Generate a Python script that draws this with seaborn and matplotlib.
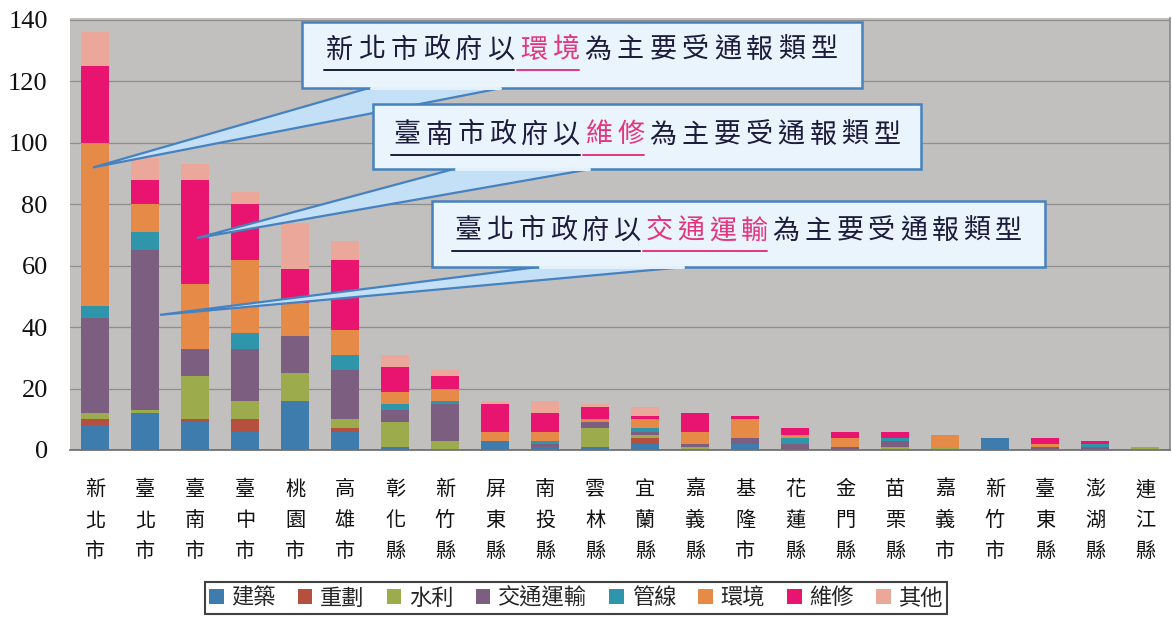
import matplotlib
matplotlib.use("Agg")
import matplotlib.pyplot as plt
import seaborn as sns
import numpy as np
from matplotlib.patches import Polygon, Rectangle, Patch
from matplotlib.lines import Line2D

sns.set_theme(style="white")
CJK = ["Noto Sans CJK TC", "DejaVu Sans"]
plt.rcParams["font.family"] = CJK

# 各縣市受通報件數 (依類型)
counties = ["新北市", "臺北市", "臺南市", "臺中市", "桃園市", "高雄市", "彰化縣", "新竹縣",
            "屏東縣", "南投縣", "雲林縣", "宜蘭縣", "嘉義縣", "基隆市", "花蓮縣", "金門縣",
            "苗栗縣", "嘉義市", "新竹市", "臺東縣", "澎湖縣", "連江縣"]
types = ["建築", "重劃", "水利", "交通運輸", "管線", "環境", "維修", "其他"]

jianzhu = [8, 12, 9, 6, 16, 6, 1, 0, 3, 1, 1, 2, 0, 2, 0, 0, 0, 0, 4, 0, 0, 0]
chonghua = [2, 0, 1, 4, 0, 1, 0, 0, 0, 0, 0, 2, 0, 0, 0, 0, 0, 0, 0, 0, 0, 0]
shuili = [2, 1, 14, 6, 9, 3, 8, 3, 0, 0, 6, 1, 1, 0, 0, 0, 1, 1, 0, 0, 0, 1]
jiaotong = [31, 52, 9, 17, 12, 16, 4, 12, 0, 1, 2, 1, 1, 2, 2, 1, 2, 0, 0, 1, 1, 0]
guanxian = [4, 6, 0, 5, 0, 5, 2, 1, 0, 1, 0, 1, 0, 0, 2, 0, 1, 0, 0, 0, 1, 0]
huanjing = [53, 9, 21, 24, 11, 8, 4, 4, 3, 3, 1, 3, 4, 6, 1, 3, 0, 4, 0, 1, 0, 0]
weixiu = [25, 8, 34, 18, 11, 23, 8, 4, 9, 6, 4, 1, 6, 1, 2, 2, 2, 0, 0, 2, 1, 0]
qita = [11, 7, 5, 4, 15, 6, 4, 2, 1, 4, 1, 3, 0, 0, 0, 0, 0, 0, 0, 0, 0, 0]

colors = ["#3f7cae", "#b5503f", "#9cab4c", "#7b5e80", "#2f95aa", "#e68a47", "#e8146f", "#eaa79a"]

series = [jianzhu, chonghua, shuili, jiaotong, guanxian, huanjing, weixiu, qita]
cum = np.cumsum(np.array(series), axis=0)

W, H = 1172, 619
fig = plt.figure(figsize=(W / 100, H / 100), dpi=100)
ax = fig.add_axes([70 / W, 1 - 450 / H, 1100 / W, 432 / H])
ax.set_facecolor("#c2bfbf")

# stacked bars: draw totals first, then overlay lower cumulative layers
for k in range(len(types) - 1, -1, -1):
    sns.barplot(x=counties, y=cum[k], color=colors[k], saturation=1, width=0.56,
                order=counties, ax=ax, zorder=2, linewidth=0, edgecolor="none")

ax.set_xlim(-0.5, len(counties) - 0.5)
ax.set_ylim(0, 140.65)
ax.set_yticks(range(0, 141, 20))
ax.yaxis.grid(True, color="#8e8e8e", linewidth=0.9)
ax.set_axisbelow(True)
for s in ["top", "left"]:
    ax.spines[s].set_visible(False)
ax.spines["bottom"].set_color("#6e6e6e")
ax.spines["right"].set_color("#8a8a8a")
ax.set_xlabel("")
ax.set_ylabel("")
ax.tick_params(axis="y", length=0, pad=16)
ax.tick_params(axis="x", length=0, pad=21)
for lab in ax.get_yticklabels():
    lab.set_family("Liberation Serif")
    lab.set_fontsize(19)
    lab.set_color("#111111")
ax.set_xticks(range(len(counties)))
ax.set_xticklabels(["\n".join(c) for c in counties], fontsize=14.5, linespacing=1.62,
                   color="#111111", va="top")

# legend
handles = [Patch(facecolor=c, edgecolor="none") for c in colors]
leg = fig.legend(handles, types, loc="center", bbox_to_anchor=(576 / W, 1 - 598 / H),
                 ncol=8, fontsize=16, frameon=True, fancybox=False, handlelength=0.65,
                 handleheight=0.65, handletextpad=0.35, columnspacing=1.0,
                 borderpad=0.2, borderaxespad=0)
leg.get_frame().set_edgecolor("#111111")
leg.get_frame().set_linewidth(1.5)


def fp(x, y):
    return (x / W, 1 - y / H)


def data_to_fig(x, y):
    return fig.transFigure.inverted().transform(ax.transData.transform((x, y)))


EDGE = "#4682bf"


def callout(box, tip, base, pieces, text_y, pitch, fs):
    x0, y0, x1, y1 = box
    tail = Polygon([tip, fp(base[0], y1), fp(base[1], y1)], closed=True,
                   transform=fig.transFigure, facecolor="#c3e0f7", edgecolor=EDGE,
                   linewidth=1.6, zorder=5)
    fig.add_artist(tail)
    rect = Rectangle(fp(x0, y1), (x1 - x0) / W, (y1 - y0) / H, transform=fig.transFigure,
                     facecolor="#eaf4fc", edgecolor=EDGE, linewidth=1.8, zorder=6)
    fig.add_artist(rect)
    # mask the join between tail and box
    fig.add_artist(Line2D([fp(base[0] + 2, y1)[0], fp(base[1] - 2, y1)[0]],
                          [fp(0, y1)[1]] * 2, transform=fig.transFigure,
                          color="#e4f1fb", linewidth=2.2, zorder=6.5))
    n = sum(len(t) for t, _, _ in pieces)
    x = (x0 + x1) / 2 - pitch * n / 2
    for text, col, ucol in pieces:
        start = x
        for ch in text:
            fig.text(*fp(x + pitch / 2, text_y), ch, ha="center", va="center", fontsize=fs,
                     color=col, family=CJK, zorder=7)
            x += pitch
        if ucol:
            fig.add_artist(Line2D([fp(start, 0)[0], fp(x - 3, 0)[0]],
                                  [fp(0, text_y + 20)[1]] * 2, transform=fig.transFigure,
                                  color=ucol, linewidth=1.4, zorder=7))


NAVY = "#1c1c3c"
PINK = "#e4357f"

callout((302, 22, 862, 88), data_to_fig(-0.04, 92.0), (369, 502),
        [("新北市政府以", NAVY, NAVY), ("環境", PINK, PINK), ("為主要受通報類型", NAVY, None)],
        50, 32.3, 19.5)
callout((373, 104, 921, 169), data_to_fig(2.04, 69.0), (454, 591),
        [("臺南市政府以", NAVY, NAVY), ("維修", PINK, PINK), ("為主要受通報類型", NAVY, None)],
        135, 32.0, 19.5)
callout((432, 201, 1045, 267), data_to_fig(1.3, 44.0), (538, 685),
        [("臺北市政府以", NAVY, NAVY), ("交通運輸", PINK, PINK), ("為主要受通報類型", NAVY, None)],
        231, 31.8, 19.5)

fig.savefig("out.png", dpi=100, facecolor="white")
